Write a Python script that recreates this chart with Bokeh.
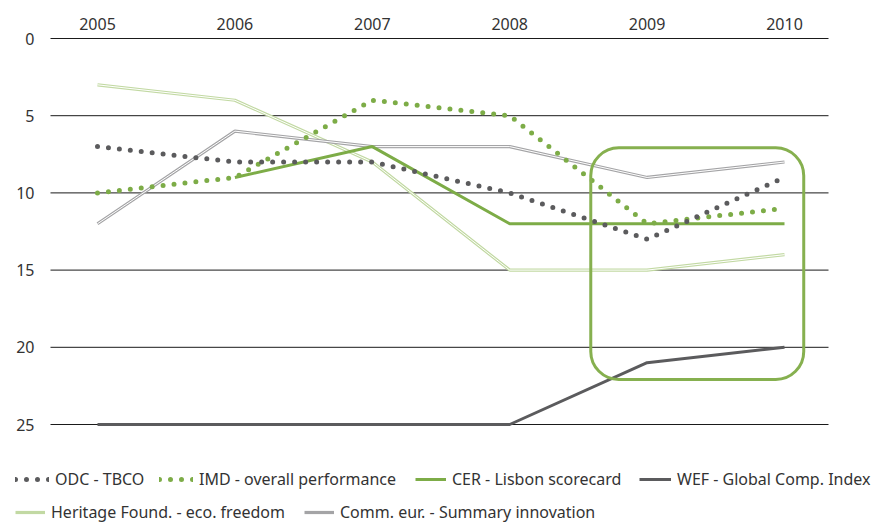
from bokeh.plotting import figure
from bokeh.models import (Range1d, FixedTicker, Legend, LegendItem, BoxAnnotation,
                          ColumnDataSource)
from bokeh.core.properties import value
from bokeh.embed import file_html
from bokeh.resources import INLINE

# ---------------- data ----------------
years = [2005, 2006, 2007, 2008, 2009, 2010]
odc_tbco = [7, 8, 8, 10, 13, 9]
imd_overall = [10, 9, 4, 5, 12, 11]
cer_years = [2006, 2007, 2008, 2009, 2010]
cer_lisbon = [9, 7, 12, 12, 12]
wef_gci = [25, 25, 25, 25, 21, 20]
heritage_freedom = [3, 4, 8, 15, 15, 14]
comm_innovation = [12, 6, 7, 7, 9, 8]
y_ticks = [0, 5, 10, 15, 20, 25]
y_tick_labels = ["0", "5", "10", "15", "20", "25"]
highlight_years = (2009, 2010)
highlight_ranks = (7, 22)

DARK = "#5b5b5d"
GREEN = "#7dac47"
LIGHT_GREEN = "#c2d9a3"
GRAY = "#a4a4a6"
BOX_GREEN = "#86b04f"
TEXT = "#333333"
FONT = "Noto Sans"

W, H = 872, 522
TOP = 32                      # frame top (px)
PX_PER_YEAR = 137.4
X0_PX = 97                    # pixel of the first year
PX_PER_RANK = 15.44
Y0_PX = 38                    # pixel of rank 0

x_start = years[0] - X0_PX / PX_PER_YEAR
x_end = x_start + W / PX_PER_YEAR
y_top = 0 - (Y0_PX - TOP) / PX_PER_RANK
y_bottom = y_top + (H - TOP) / PX_PER_RANK

p = figure(width=W, height=H, output_backend="svg", toolbar_location=None,
           x_axis_location="above", y_axis_location=None,
           x_range=Range1d(x_start, x_end), y_range=Range1d(y_bottom, y_top),
           min_border_left=0, min_border_right=0, min_border_top=TOP,
           min_border_bottom=0)
p.outline_line_color = None
p.background_fill_color = "white"
p.xgrid.visible = False
p.ygrid.visible = False

# x axis (top)
p.xaxis.ticker = FixedTicker(ticks=years)
p.xaxis.axis_line_color = None
p.xaxis.major_tick_line_color = None
p.xaxis.major_tick_out = 0
p.xaxis.major_tick_in = 0
p.xaxis.minor_tick_line_color = None
p.xaxis.major_label_standoff = 3
p.xaxis.major_label_text_font = FONT
p.xaxis.major_label_text_font_size = "16px"
p.xaxis.major_label_text_color = TEXT

# horizontal grid lines limited to the plotting band
grid_left = x_start + 50 / PX_PER_YEAR
grid_right = x_start + 828 / PX_PER_YEAR
gsrc = ColumnDataSource(dict(x0=[grid_left] * len(y_ticks),
                             x1=[grid_right] * len(y_ticks), y=y_ticks))
p.segment(x0="x0", x1="x1", y0="y", y1="y", source=gsrc,
          line_color="#1a1a1a", line_width=1)

# y tick labels
label_x = x_start + 34 / PX_PER_YEAR
ysrc = ColumnDataSource(dict(x=[label_x] * len(y_ticks), y=y_ticks, t=y_tick_labels))
p.text(x="x", y="y", text="t", source=ysrc, text_align="right",
       text_baseline="alphabetic", text_font=value(FONT), text_font_size="16px",
       text_color=TEXT)

# series
her_o = p.line(years, heritage_freedom, line_color=LIGHT_GREEN, line_width=3.2)
her_i = p.line(years, heritage_freedom, line_color="white", line_width=1)
com_o = p.line(years, comm_innovation, line_color=GRAY, line_width=3.2)
com_i = p.line(years, comm_innovation, line_color="white", line_width=1)
wef = p.line(years, wef_gci, line_color=DARK, line_width=3)
cer = p.line(cer_years, cer_lisbon, line_color=GREEN, line_width=3)
imd = p.line(years, imd_overall, line_color=GREEN, line_width=5,
             line_dash="0 11", line_cap="round")
odc = p.line(years, odc_tbco, line_color=DARK, line_width=5,
             line_dash="0 11", line_cap="round")

box = BoxAnnotation(left=highlight_years[0] - 0.41, right=highlight_years[1] + 0.14,
                    top=highlight_ranks[0] + 0.08, bottom=highlight_ranks[1] + 0.08,
                    fill_alpha=0, line_color=BOX_GREEN, line_alpha=1, line_width=3,
                    border_radius=28)
p.add_layout(box)


def add_item(label, renderers, x, y, gw):
    lg = Legend(items=[LegendItem(label=label, renderers=renderers)],
                location=(x, y), orientation="horizontal",
                border_line_color=None, background_fill_alpha=0,
                padding=0, margin=0, spacing=0, label_standoff=6,
                glyph_width=gw, glyph_height=20,
                label_text_font=FONT, label_text_font_size="16px",
                label_text_color=TEXT)
    p.add_layout(lg)


ROW1, ROW2 = 32, -1
add_item("ODC - TBCO", [odc], 15, ROW1, 34)
add_item("IMD - overall performance", [imd], 159, ROW1, 34)
add_item("CER - Lisbon scorecard", [cer], 415, ROW1, 31)
add_item("WEF - Global Comp. Index", [wef], 639, ROW1, 32)
add_item("Heritage Found. - eco. freedom", [her_o], 15, ROW2, 30)
add_item("Comm. eur. - Summary innovation", [com_o], 304, ROW2, 30)

open("out.html", "w").write(file_html(p, INLINE))
